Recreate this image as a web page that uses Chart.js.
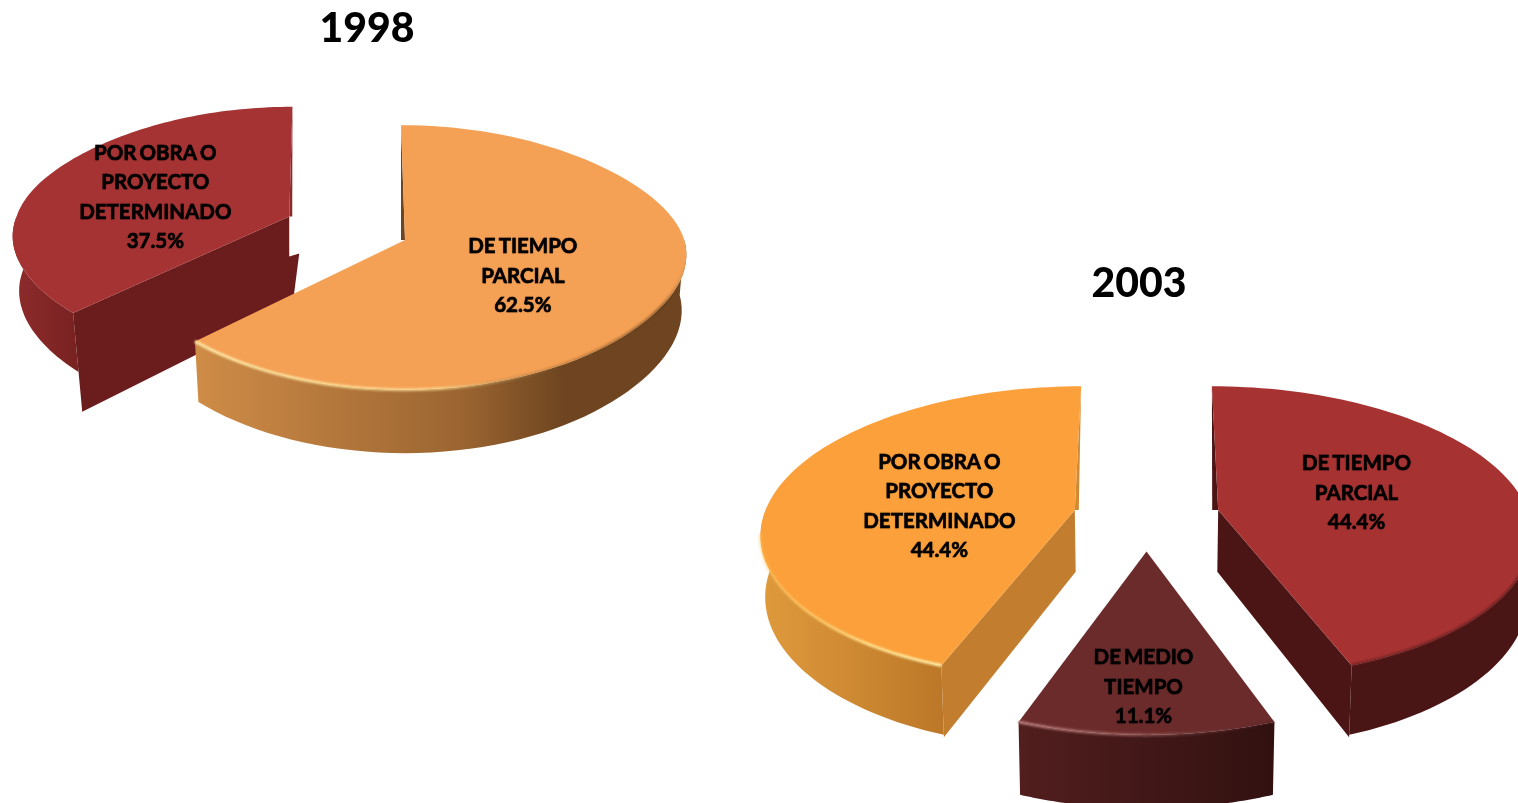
<!DOCTYPE html>
<html>
<head>
<meta charset="utf-8">
<title>Tipo de contrato 1998 y 2003</title>
<script src="https://cdn.jsdelivr.net/npm/chart.js@4"></script>
<style>
  html, body { margin: 0; height: 100%; overflow: hidden; background: #fff; }
  canvas { position: absolute; }
  #chart1998 { left: 0; top: 0; }
  #chart2003 { left: 720px; top: 255px; }
</style>
</head>
<body>
<canvas id="chart1998" width="734" height="470"></canvas>
<canvas id="chart2003" width="838" height="548"></canvas>
<script>
// Data
const cats1998 = [['DE TIEMPO', 'PARCIAL'], ['POR OBRA O', 'PROYECTO', 'DETERMINADO']];
const vals1998 = [62.5, 37.5];
const cats2003 = [['DE TIEMPO', 'PARCIAL'], ['DE MEDIO', 'TIEMPO'], ['POR OBRA O', 'PROYECTO', 'DETERMINADO']];
const vals2003 = [44.4, 11.1, 44.4];

// Look of each pie: how the flat circle is tilted on screen and the side colours
const view1998 = {
  cx: 405, cy: 240, rx: 266, ry: 130, p: 0.132, q: 0.03, depth: 55, bulge: 0.05,
  offset: [0, 204.7],
  lean: [-4, -10],
  top: ['#f4a055', '#a63333'],
  side: [
    [[0, '#cf8c47'], [0.55, '#9a6431'], [0.75, '#6e4520'], [1, '#6e4520']],
    [[0, '#8e2b2b'], [1, '#7a2222']],
  ],
  wall: ['#6e4520', '#6b1c1c'],
  sliver: ['#6e4520', '#8a2a2a'],
  sliverW: [-4, 3],
  wallDepth: [55, 92],
  notch: [null, [[0, 40], [10, 37]]],
  rim: [
    [[0, 'rgba(255,235,170,0.95)'], [0.5, 'rgba(255,225,150,0.75)'], [0.75, 'rgba(120,75,30,0.35)'], [0.95, 'rgba(90,55,20,0.6)'], [1, 'rgba(90,55,20,0)']],
    [[0, 'rgba(160,50,50,0)'], [1, 'rgba(160,50,50,0)']],
  ],
  label: [[0.476, -2, 12], [0.476, -25, 3]],
};
const view2003 = {
  cx: 426.5, cy: 261, rx: 308, ry: 144, p: 0.15, q: 0.02, depth: 60, bulge: 0.01,
  offset: [159.5, 159.5, 159.5],
  lean: [3, 0, -3],
  top: ['#a63232', '#6c2b2b', '#fba03b'],
  side: [
    [[0, '#4a1515'], [1, '#4a1515']],
    [[0, '#521e1e'], [1, '#311110']],
    [[0, '#e09a3d'], [1, '#bc7828']],
  ],
  wall: ['#4b1515', '#4b1515', '#c27e2e'],
  sliver: ['#4b1515', '#4b1515', '#d08a34'],
  sliverW: [-6, 0, 4],
  wallDepth: [62, 62, 62],
  notch: [null, null, null],
  rim: [
    [[0, 'rgba(90,25,25,0.7)'], [1, 'rgba(80,20,20,0.7)']],
    [[0, 'rgba(190,130,130,0.9)'], [0.5, 'rgba(170,110,110,0.6)'], [1, 'rgba(60,20,20,0.3)']],
    [[0, 'rgba(255,190,80,0.5)'], [0.6, 'rgba(255,225,140,0.95)'], [1, 'rgba(255,240,170,1)']],
  ],
  label: [[0.44, 8, -6], [0.75, -3, 4], [0.43, -8, 7]],
};

function project(view, u, v, z) {
  const s = 1 / (1 - view.p * v);
  const k = 1 - view.q * z / 100;
  return { x: view.cx + view.rx * u * s * k, y: view.cy + view.ry * v * s + z * s };
}

function fillPoly(ctx, pts, style) {
  ctx.beginPath();
  pts.forEach((pt, n) => (n ? ctx.lineTo(pt.x, pt.y) : ctx.moveTo(pt.x, pt.y)));
  ctx.closePath();
  ctx.fillStyle = style;
  ctx.fill();
}

function xGradient(ctx, pts, stops) {
  const xs = pts.map((pt) => pt.x);
  const grad = ctx.createLinearGradient(Math.min(...xs), 0, Math.max(...xs), 0);
  stops.forEach((st) => grad.addColorStop(st[0], st[1]));
  return grad;
}

// Draws the arcs Chart.js has laid out, tilted and with some thickness
function pie3d(view) {
  return {
    id: 'pie3d',
    beforeDatasetsDraw(chart) {
      const ctx = chart.ctx;
      const arcs = chart.getDatasetMeta(0).data;
      for (let i = arcs.length - 1; i >= 0; i--) {
        const el = arcs[i];
        const mid = (el.startAngle + el.endAngle) / 2;
        const d = (el.options.offset / 4) / el.outerRadius;
        const ox = d * Math.cos(mid);
        const oy = d * Math.sin(mid);
        const steps = 90;
        const angles = [];
        for (let n = 0; n <= steps; n++) angles.push(el.startAngle + (el.endAngle - el.startAngle) * n / steps);
        const at = (a, z) => {
          const c = Math.cos(a);
          const pt = project(view, ox + c * (1 + view.bulge * c * c * c * c), oy + Math.sin(a), z);
          pt.x += view.lean[i] * Math.max(0, -Math.sin(a));
          return pt;
        };
        const topArc = angles.map((a) => at(a, 0));
        const apex = project(view, ox, oy, 0);

        ctx.save();
        // outer side, only the part that faces the viewer
        const frontAngles = angles.filter((a) => Math.sin(a) > -0.02);
        const sideTop = frontAngles.map((a) => at(a, 0));
        const sideLow = frontAngles.map((a) => at(a, view.depth)).reverse();
        fillPoly(ctx, sideTop.concat(sideLow), xGradient(ctx, sideTop, view.side[i]));

        // cut faces that look towards the viewer
        [[el.startAngle, -1], [el.endAngle, 1]].forEach(([a, dir]) => {
          if (dir * Math.cos(a) <= 0.01) return;
          const wd = view.wallDepth[i];
          const extra = (view.notch[i] || []).map((n) => ({ x: apex.x + n[0], y: apex.y + n[1] }));
          fillPoly(ctx, [at(a, 0), apex].concat(extra, [project(view, ox, oy, wd), at(a, wd)]), view.wall[i]);
        });

        // thin edge left showing on the far cut
        if (view.sliverW[i]) {
          const far = view.sliverW[i] < 0 ? el.startAngle : el.endAngle;
          fillPoly(ctx, [at(far, 0), apex, { x: apex.x + view.sliverW[i], y: apex.y }], view.sliver[i]);
        }

        // top face
        fillPoly(ctx, topArc.concat([apex]), view.top[i]);

        // soft bevel along the front rim
        const front = angles.filter((a) => Math.sin(a) > 0.15).map((a) => at(a, 0));
        if (front.length > 1) {
          ctx.beginPath();
          front.forEach((pt, n) => (n ? ctx.lineTo(pt.x, pt.y) : ctx.moveTo(pt.x, pt.y)));
          ctx.strokeStyle = xGradient(ctx, front, view.rim[i]);
          ctx.lineWidth = 3;
          ctx.filter = 'blur(1px)';
          ctx.stroke();
          ctx.filter = 'none';
        }
        ctx.restore();
      }

      // labels, placed along each slice's own middle angle
      ctx.save();
      ctx.fillStyle = '#000';
      ctx.strokeStyle = '#000';
      ctx.lineWidth = 0.5;
      ctx.font = '700 20.5px Lato';
      ctx.textAlign = 'center';
      ctx.textBaseline = 'middle';
      ctx.wordSpacing = '-2px';
      ctx.shadowColor = 'rgba(0,0,0,0.4)';
      ctx.shadowBlur = 1;
      arcs.forEach((el, i) => {
        const mid = (el.startAngle + el.endAngle) / 2;
        const d = (el.options.offset / 4) / el.outerRadius;
        const t = view.label[i][0];
        const c = project(view, (d + t) * Math.cos(mid), (d + t) * Math.sin(mid), 0);
        const lines = chart.data.labels[i].concat(chart.data.datasets[0].data[i].toFixed(1) + '%');
        const lh = 29.5;
        lines.forEach((line, n) => {
          const lx = c.x + view.label[i][1];
          const ly = c.y + view.label[i][2] + (n - (lines.length - 1) / 2) * lh;
          ctx.fillText(line, lx, ly);
          ctx.strokeText(line, lx, ly);
        });
      });
      ctx.restore();
      return false;
    },
  };
}

function makePie(id, year, labels, values, view) {
  return new Chart(document.getElementById(id).getContext('2d'), {
    type: 'pie',
    data: {
      labels: labels,
      datasets: [{ data: values, backgroundColor: view.top, offset: view.offset, borderWidth: 0 }],
    },
    options: {
      responsive: false,
      animation: false,
      devicePixelRatio: 1,
      layout: { padding: 0 },
      plugins: {
        legend: { display: false },
        tooltip: { enabled: false },
        title: {
          display: true,
          text: year,
          color: '#000',
          font: { family: 'Lato', size: 41, weight: '900', lineHeight: 1.2 },
          padding: { top: 4, bottom: 0 },
        },
      },
    },
    plugins: [pie3d(view)],
  });
}

makePie('chart1998', '1998', cats1998, vals1998, view1998);
makePie('chart2003', '2003', cats2003, vals2003, view2003);
</script>
</body>
</html>
